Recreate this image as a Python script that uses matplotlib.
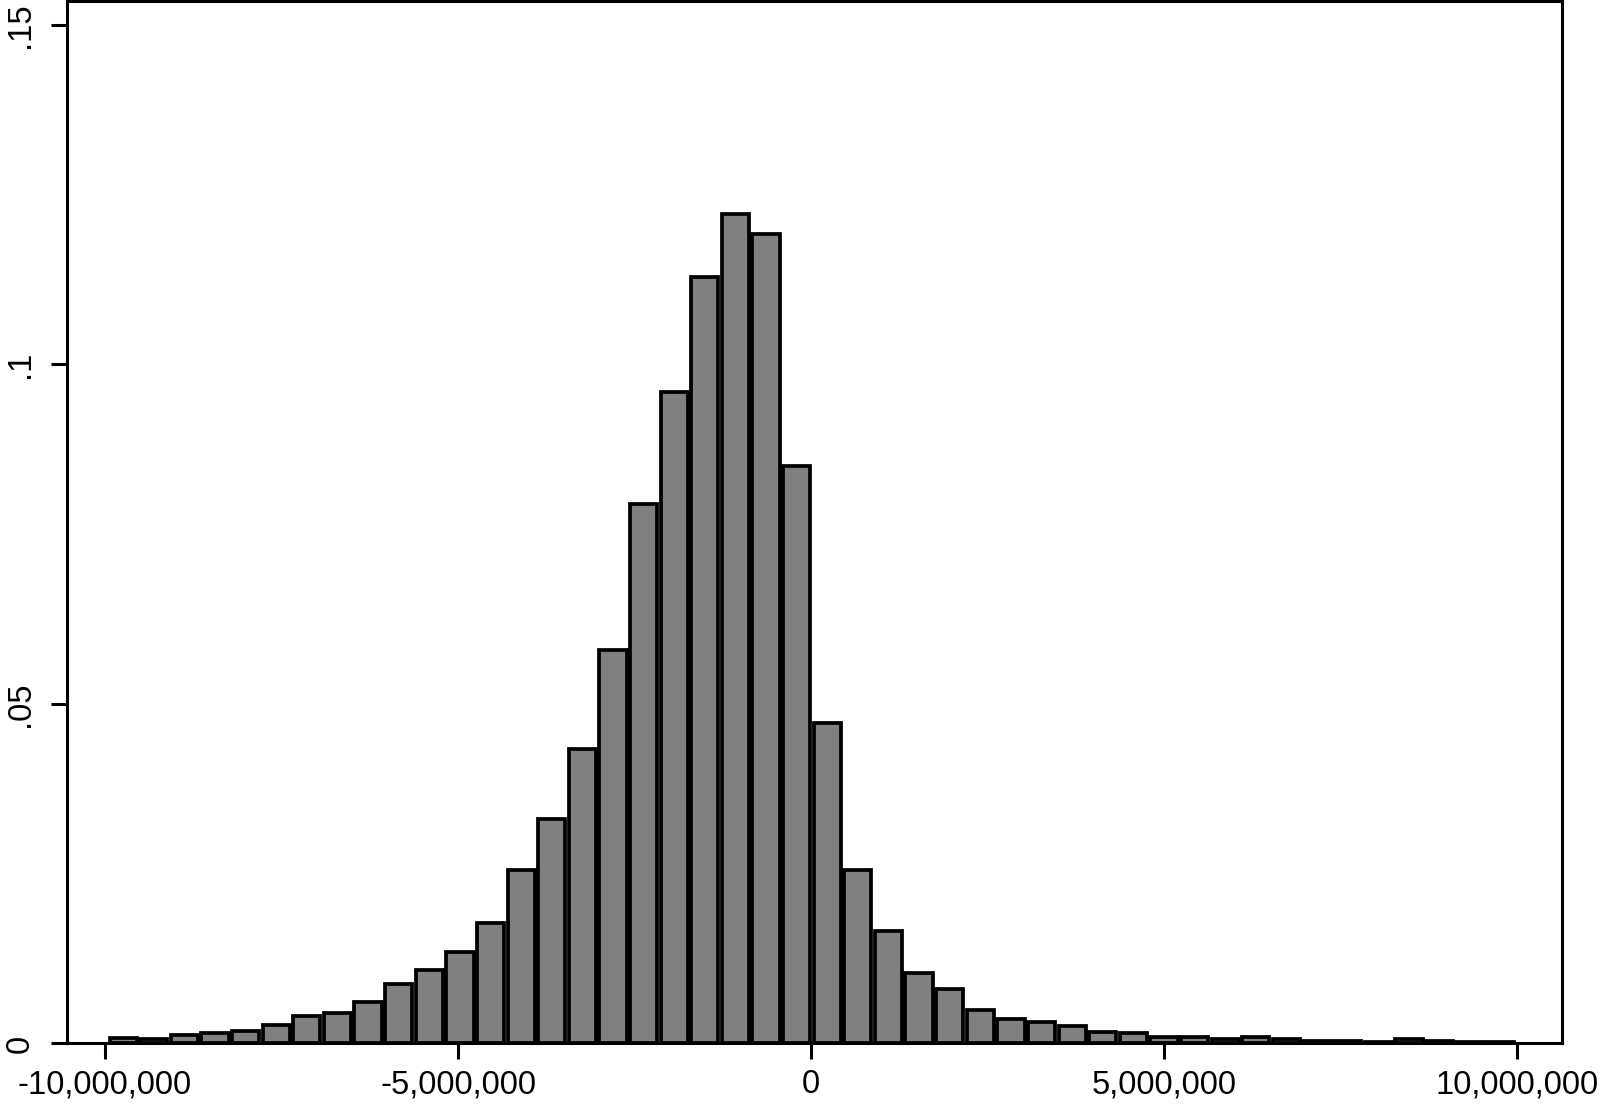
import matplotlib
matplotlib.use("Agg")
import matplotlib.pyplot as plt
import numpy as np

# histogram of the difference, Stata-style (density, 46 equal bins)
bin_start = -9.96e6
bin_width = 0.4335e6
density = [
    0.0008, 0.0006, 0.0013, 0.0016, 0.0019, 0.0027, 0.0041, 0.0045,
    0.0061, 0.0087, 0.0108, 0.0134, 0.0178, 0.0256, 0.0331, 0.0434,
    0.0580, 0.0795, 0.0960, 0.1129, 0.1222, 0.1192, 0.0851, 0.0472,
    0.0256, 0.0165, 0.0104, 0.0080, 0.0050, 0.0036, 0.0031, 0.0026,
    0.0017, 0.0015, 0.0009, 0.0009, 0.0007, 0.0010, 0.0006, 0.0004,
    0.0003, 0.0002, 0.0006, 0.0003, 0.00015, 0.00015,
]
x_ticks = [-10e6, -5e6, 0, 5e6, 10e6]
y_ticks = [0, 0.05, 0.1, 0.15]
y_labels = ["0", ".05", ".1", ".15"]

plt.rcParams["font.family"] = ["Liberation Sans", "DejaVu Sans"]

fig = plt.figure(figsize=(16, 11.09), dpi=100, facecolor="white")
ax = fig.add_axes([0.0419, 0.0591, 0.9344, 0.940])

centers = bin_start + bin_width * (np.arange(len(density)) + 0.5)
ax.bar(centers, density, width=bin_width * 0.89, align="center",
       color="#808080", edgecolor="black", linewidth=2.7, zorder=3)

ax.set_xlim(-10.538e6, 10.633e6)
ax.set_ylim(0, 0.15353)

ax.set_xticks(x_ticks)
ax.set_xticklabels([f"{int(v):,}" for v in x_ticks])
ax.set_yticks(y_ticks)
ax.set_yticklabels(y_labels, rotation=90, va="center")

ax.tick_params(axis="both", direction="out", length=11.5, width=2.2,
               labelsize=23.5, color="black")
ax.tick_params(axis="x", pad=7)
ax.tick_params(axis="y", pad=11)
for sp in ax.spines.values():
    sp.set_linewidth(2.2)
    sp.set_color("black")

fig.savefig("out.png", dpi=100, facecolor="white")
